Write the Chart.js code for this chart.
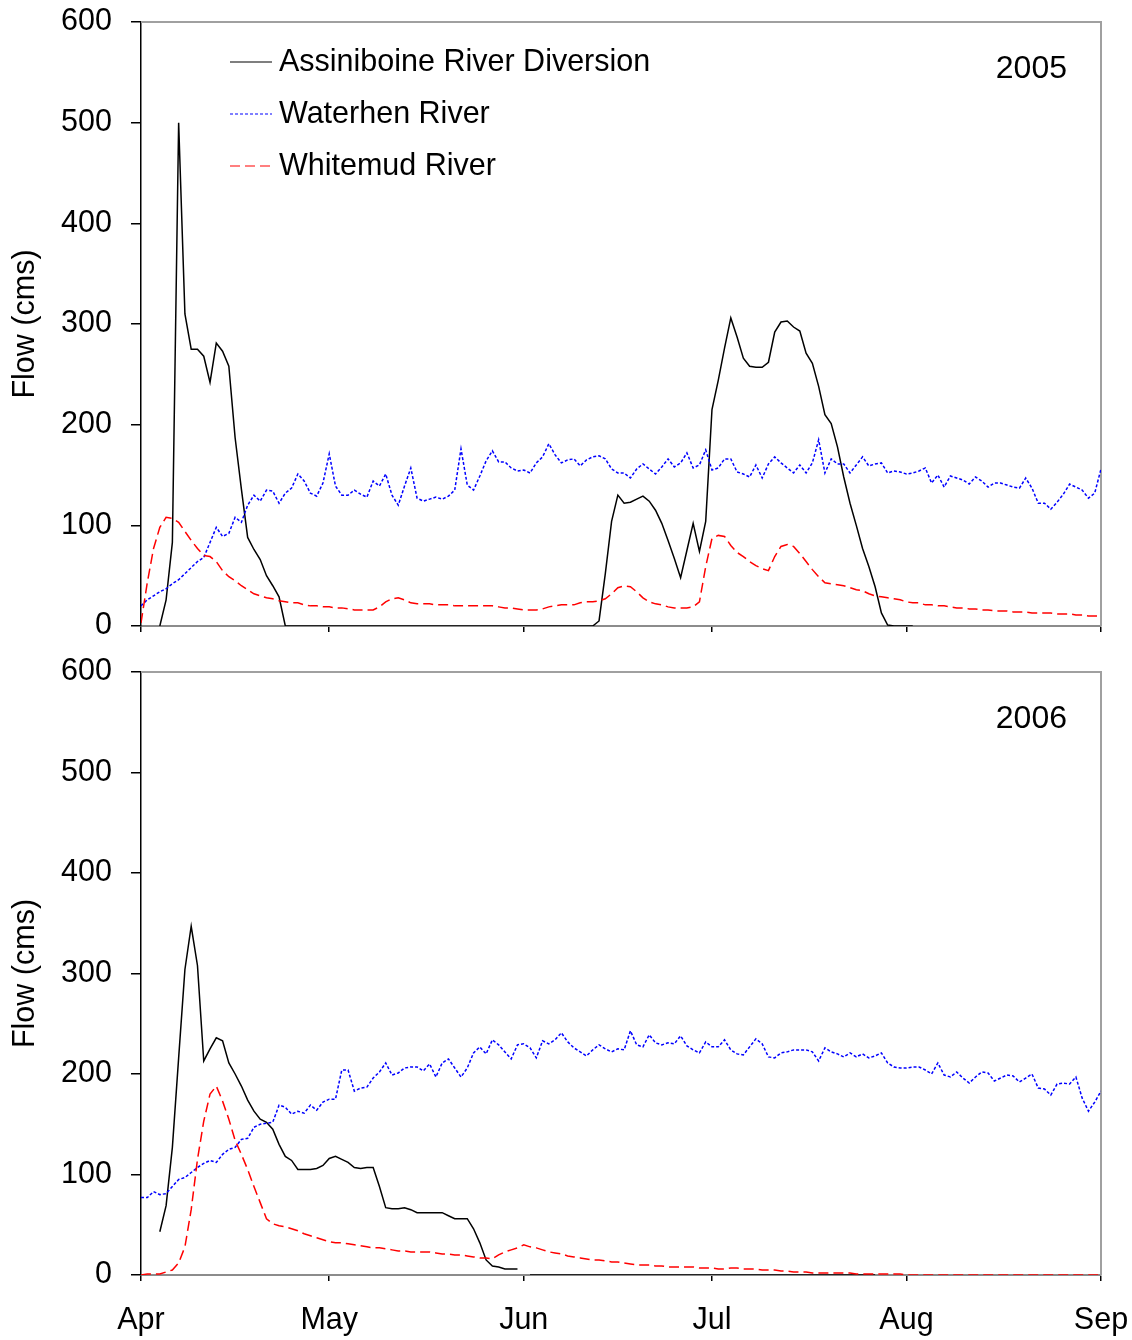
<!DOCTYPE html>
<html>
<head>
<meta charset="utf-8">
<title>River flows 2005-2006</title>
<script src="https://cdn.jsdelivr.net/npm/chart.js@4.4.1/dist/chart.umd.min.js"></script>
<style>
  html, body { margin: 0; padding: 0; background: #fff; }
  canvas { position: absolute; left: 0; }
  #chart2005 { top: 0; }
  #chart2006 { top: 650px; }
</style>
</head>
<body>
<canvas id="chart2005" width="1132" height="650"></canvas>
<canvas id="chart2006" width="1132" height="690"></canvas>
<script>
/* daily flows in cms, day 0 = 1 April */

const monthDays = [0, 30, 61, 91, 122, 153];
const monthLabels = ["Apr", "May", "Jun", "Jul", "Aug", "Sep"];

// 2005 ---------------------------------------------------------------
const assiniboineStart2005 = 3;
const assiniboine2005 = [
  0, 26, 83, 500, 310, 275, 275, 268, 242, 281,
  273, 258, 187, 136, 88, 76, 66, 50, 40, 29,
  0,
  0, 0, 0, 0, 0, 0, 0, 0, 0, 0,
  0, 0, 0, 0, 0, 0, 0, 0, 0, 0,
  0, 0, 0, 0, 0, 0, 0, 0, 0, 0,
  0, 0, 0, 0, 0, 0, 0, 0, 0, 0,
  0, 0, 0, 0, 0, 0, 0, 0, 0,
  5, 52, 104, 130, 122, 123, 126, 129, 124, 115,
  102, 85, 67, 48, 75, 102, 74, 104, 215, 244,
  276, 306, 287, 266, 258, 257, 257, 262, 292, 302,
  303, 297, 293, 271, 261, 238, 210, 201, 178, 148,
  122, 100, 77, 59, 39, 13, 1, 0, 0, 0,
  0,
];

const waterhen2005 = [
  20, 26, 30, 34, 37, 42, 46, 52, 58, 64,
  68, 83, 98, 89, 92, 108, 103, 120, 130, 124,
  135, 134, 122, 132, 137, 151, 144, 132, 129, 142,
  171, 139, 130, 130, 135, 131, 128, 144, 139, 151,
  130, 120, 139, 157, 127, 124, 126, 128, 126, 129,
  135, 176, 140, 135, 149, 164, 174, 163, 163, 157,
  154, 155, 152, 162, 168, 181, 170, 162, 165, 166,
  159, 165, 168, 169, 166, 156, 152, 152, 147, 156,
  161, 156, 151, 158, 166, 158, 162, 172, 157, 160,
  175, 155, 157, 166, 166, 153, 151, 148, 160, 147,
  161, 168, 162, 157, 152, 160, 152, 162, 185, 152,
  166, 161, 161, 152, 160, 168, 159, 161, 162, 152,
  154, 153, 151, 152, 154, 157, 142, 150, 138, 149,
  147, 145, 141, 148, 144, 138, 142, 142, 140, 138,
  137, 147, 137, 122, 122, 116, 123, 131, 141, 138,
  135, 127, 132, 156,
];

const whitemud2005 = [
  3, 43, 77, 98, 108, 107, 103, 94, 85, 77,
  70, 69, 64, 55, 49, 45, 40, 36, 32, 30,
  28, 27, 25, 24, 23, 23, 21, 20, 20, 19,
  19, 18, 18, 17, 16, 16, 16, 16, 19, 24,
  27, 28, 26, 23, 22, 22, 22, 21, 21, 21,
  20, 20, 20, 20, 20, 20, 20, 19, 18, 18,
  17, 16, 16, 16, 17, 19, 20, 21, 21, 21,
  23, 24, 24, 25, 27, 32, 38, 40, 39, 34,
  28, 24, 22, 21, 19, 18, 18, 18, 19, 24,
  59, 87, 90, 89, 80, 73, 69, 64, 60, 57,
  55, 69, 79, 81, 79, 72, 64, 56, 49, 43,
  42, 41, 40, 38, 36, 35, 32, 30, 29, 28,
  27, 26, 24, 23, 23, 21, 21, 20, 20, 19,
  18, 18, 17, 17, 16, 16, 15, 15, 15, 14,
  14, 14, 13, 13, 13, 13, 12, 12, 12, 11,
  11, 10, 10, 10,
];

// 2006 ---------------------------------------------------------------
const assiniboineStart2006 = 3;
const assiniboine2006 = [
  43, 69, 127, 216, 304, 347, 308, 213, 225, 236,
  233, 211, 200, 188, 174, 163, 155, 152, 145, 130,
  118, 114, 105, 105, 105, 106, 109, 116, 118, 115,
  112, 107, 106, 107, 107, 88, 67, 66, 66, 67,
  65, 62, 62, 62, 62, 62, 59, 56, 56, 56,
  46, 32, 15, 9, 8, 6, 6, 6,
  null,
  0, 0, 0, 0, 0, 0, 0, 0, 0, 0,
  0, 0, 0, 0, 0, 0, 0, 0, 0, 0,
  0, 0, 0, 0, 0, 0, 0, 0, 0, 0,
  0, 0, 0, 0, 0, 0, 0, 0, 0, 0,
  0, 0, 0, 0, 0, 0, 0, 0, 0, 0,
  0, 0, 0, 0, 0, 0,
];

const waterhen2006 = [
  77, 77, 83, 80, 81, 88, 95, 97, 102, 107,
  111, 114, 112, 120, 125, 127, 135, 136, 147, 150,
  151, 152, 169, 167, 160, 163, 161, 169, 164, 172,
  175, 175, 204, 204, 183, 186, 187, 196, 202, 211,
  199, 201, 206, 207, 207, 203, 210, 197, 211, 215,
  206, 197, 206, 221, 227, 220, 234, 229, 222, 215,
  229, 230, 226, 216, 233, 230, 234, 241, 232, 226,
  222, 218, 224, 229, 225, 222, 225, 224, 243, 229,
  227, 239, 231, 229, 231, 230, 238, 228, 224, 221,
  232, 227, 227, 234, 224, 220, 219, 227, 235, 230,
  217, 216, 221, 222, 224, 224, 224, 222, 213, 226,
  222, 220, 217, 221, 217, 220, 216, 218, 221, 211,
  207, 206, 206, 207, 207, 204, 200, 211, 199, 197,
  202, 196, 191, 197, 202, 201, 193, 196, 199, 198,
  192, 196, 200, 186, 185, 179, 190, 191, 190, 197,
  176, 163, 172, 183,
];

const whitemud2006 = [
  0, 1, 1, 1, 3, 5, 12, 28, 65, 115,
  153, 180, 188, 173, 155, 134, 120, 105, 88, 72,
  56, 51, 49, 48, 46, 44, 41, 39, 37, 35,
  33, 32, 32, 31, 30, 29, 28, 27, 27, 26,
  25, 24, 24, 23, 23, 23, 23, 22, 21, 21,
  20, 20, 19, 18, 17, 17, 16, 20, 23, 25,
  27, 30, 28, 27, 25, 23, 22, 21, 19, 18,
  17, 16, 15, 15, 14, 13, 13, 12, 11, 10,
  10, 10, 9, 9, 8, 8, 8, 8, 8, 7,
  7, 7, 6, 6, 7, 7, 6, 6, 6, 5,
  5, 5, 4, 4, 3, 3, 3, 2, 2, 2,
  2, 2, 2, 2, 1, 1, 1, 1, 1, 1,
  1, 1, 0, 0, 0, 0, 0, 0, 0, 0,
  0, 0, 0, 0, 0, 0, 0, 0, 0, 0,
  0, 0, 0, 0, 0, 0, 0, 0, 0, 0,
  0, 0, 0, 0,
];

const FONT_FAMILY = "'Liberation Sans', Arial, Helvetica, sans-serif";
const FONT_SIZE = 30.5;
const YEAR_FONT_SIZE = 32;

Chart.defaults.font.family = FONT_FAMILY;
Chart.defaults.font.size = FONT_SIZE;
Chart.defaults.color = "#000";


function toPoints(values, startDay) {
  return values.map((v, i) => ({ x: startDay + i, y: v }));
}


function flowDatasets(assiniboine, assiniboineStart, waterhen, whitemud) {
  return [
    {
      label: "Assiniboine River Diversion",
      data: toPoints(assiniboine, assiniboineStart),
      borderColor: "#000000",
      borderWidth: 1.5,
      order: 3,
    },
    {
      label: "Waterhen River",
      data: toPoints(waterhen, 0),
      borderColor: "#0000ff",
      borderWidth: 1.5,
      borderDash: [3, 2],
      order: 2,
    },
    {
      label: "Whitemud River",
      data: toPoints(whitemud, 0),
      borderColor: "#ff0000",
      borderWidth: 1.5,
      borderDash: [10, 5],
      order: 1,
    },
  ];
}


// grey frame on the top and right side of the plot area
const plotFrame = {
  id: "plotFrame",
  beforeDatasetsDraw(chart) {
    const { ctx, chartArea: a } = chart;
    ctx.save();
    ctx.strokeStyle = "#a0a0a0";
    ctx.lineWidth = 2;
    ctx.beginPath();
    ctx.moveTo(a.left, a.top);
    ctx.lineTo(a.right, a.top);
    ctx.lineTo(a.right, a.bottom);
    ctx.stroke();
    ctx.restore();
  },
};


// year in the upper right corner
const yearLabel = {
  id: "yearLabel",
  afterDatasetsDraw(chart, args, opts) {
    if (!opts.text) return;
    const { ctx, chartArea: a } = chart;
    ctx.save();
    ctx.font = YEAR_FONT_SIZE + "px " + FONT_FAMILY;
    ctx.fillStyle = "#000";
    ctx.textAlign = "right";
    ctx.textBaseline = "middle";
    ctx.fillText(opts.text, a.right - 34, a.top + 47);
    ctx.restore();
  },
};


// legend drawn inside the plot, one series per row
const seriesKey = {
  id: "seriesKey",
  afterDatasetsDraw(chart, args, opts) {
    if (!opts.show) return;
    const { ctx, chartArea: a } = chart;
    ctx.save();
    ctx.font = FONT_SIZE + "px " + FONT_FAMILY;
    ctx.fillStyle = "#000";
    ctx.textAlign = "left";
    ctx.textBaseline = "middle";
    chart.data.datasets.forEach((ds, i) => {
      const y = a.top + 40 + i * 52;
      ctx.strokeStyle = ds.borderColor;
      ctx.lineWidth = 1.2;
      ctx.setLineDash(ds.borderDash || []);
      ctx.beginPath();
      ctx.moveTo(a.left + 89, y);
      ctx.lineTo(a.left + 131, y);
      ctx.stroke();
      ctx.setLineDash([]);
      ctx.fillText(ds.label, a.left + 138, y + 1);
    });
    ctx.restore();
  },
};


function flowOptions(year, showMonths, xAxisHeight, showKey) {
  return {
    responsive: false,
    animation: false,
    layout: {
      padding: { top: 22, right: 31, bottom: 0, left: 0 },
    },
    elements: {
      point: { radius: 0 },
      line: { tension: 0 },
    },
    plugins: {
      legend: { display: false },
      tooltip: { enabled: false },
      yearLabel: { text: year },
      seriesKey: { show: showKey },
    },
    scales: {
      x: {
        type: "linear",
        min: 0,
        max: 153,
        afterBuildTicks: (scale) => {
          scale.ticks = monthDays.map((v) => ({ value: v }));
        },
        afterFit: (scale) => {
          // fixed axis band, labels may hang past the plot edges
          scale.height = xAxisHeight;
          scale.paddingLeft = 0;
          scale.paddingRight = 0;
        },
        grid: {
          drawOnChartArea: false,
          drawTicks: true,
          tickLength: 6,
          color: "#000",
          lineWidth: 1.5,
        },
        border: {
          color: "#8c8c8c",
          width: 2,
        },
        ticks: {
          display: showMonths,
          padding: 21,
          maxRotation: 0,
          autoSkip: false,
          color: "#000",
          callback: (value) => monthLabels[monthDays.indexOf(value)],
        },
      },
      y: {
        min: 0,
        max: 600,
        afterFit: (scale) => {
          scale.width = 141;
          scale.paddingTop = 0;
          scale.paddingBottom = 0;
        },
        grid: {
          drawOnChartArea: false,
          tickLength: 10,
          color: "#000",
          lineWidth: 1.5,
        },
        border: {
          color: "#000",
          width: 1.5,
        },
        ticks: {
          stepSize: 100,
          padding: 19,
          color: "#000",
        },
        title: {
          display: true,
          text: "Flow (cms)",
          color: "#000",
          padding: { top: 7, bottom: 0 },
        },
      },
    },
  };
}


new Chart(document.getElementById("chart2005"), {
  type: "line",
  data: {
    datasets: flowDatasets(assiniboine2005, assiniboineStart2005, waterhen2005, whitemud2005),
  },
  options: flowOptions("2005", false, 24, true),
  plugins: [plotFrame, yearLabel, seriesKey],
});

new Chart(document.getElementById("chart2006"), {
  type: "line",
  data: {
    datasets: flowDatasets(assiniboine2006, assiniboineStart2006, waterhen2006, whitemud2006),
  },
  options: flowOptions("2006", true, 65, false),
  plugins: [plotFrame, yearLabel, seriesKey],
});
</script>
</body>
</html>
